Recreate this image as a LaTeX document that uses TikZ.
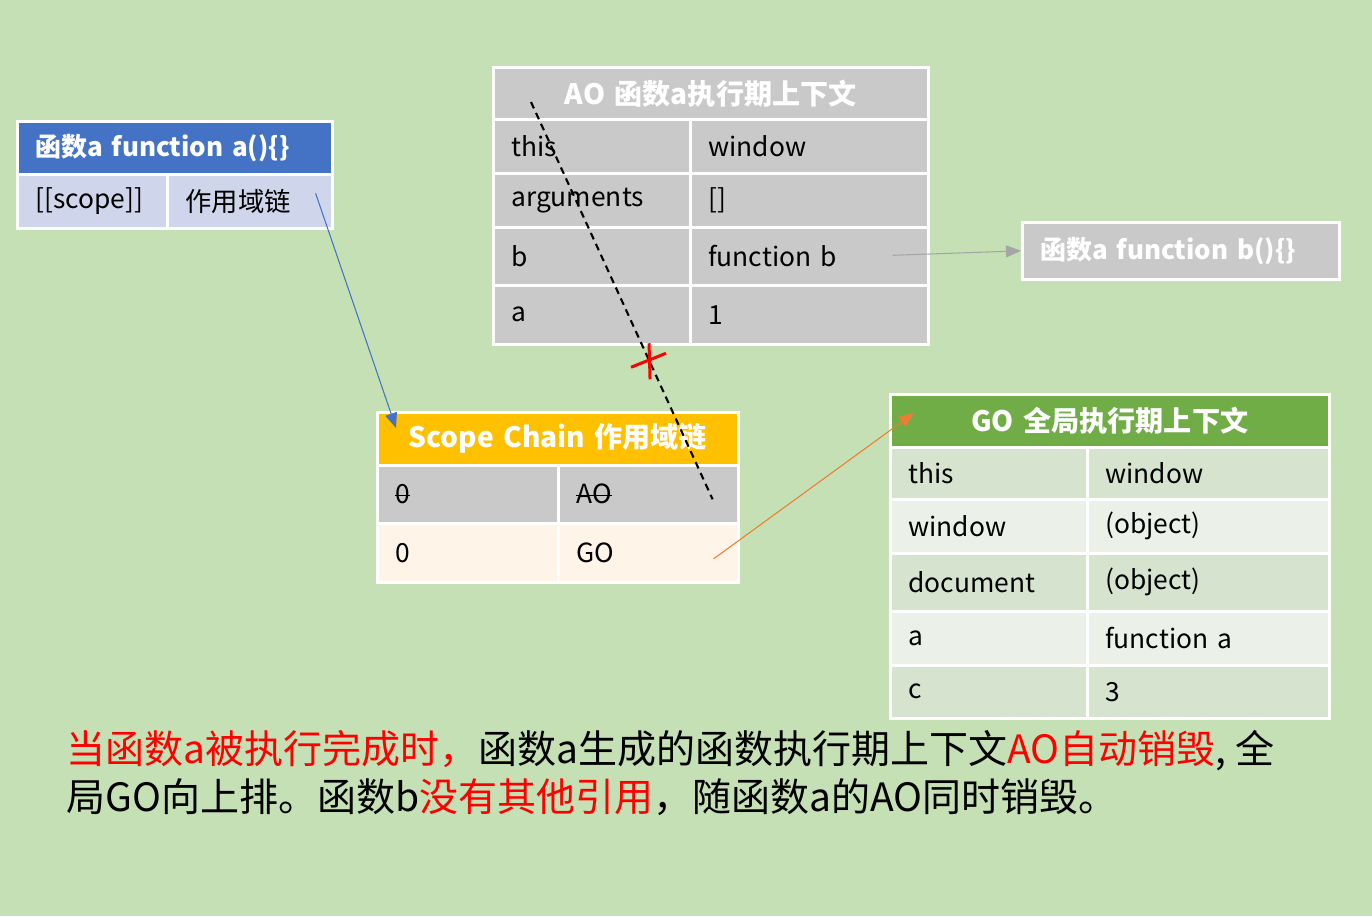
\documentclass[tikz,border=0pt]{standalone}
\usepackage{fontspec}
\setmainfont{Noto Sans CJK SC}
\usepackage{xcolor}
\usepackage{tikz}
\usetikzlibrary{arrows.meta, positioning, calc}

\definecolor{bggreen}{HTML}{C5E0B4}
\definecolor{fablue}{HTML}{4472C4}
\definecolor{fapale}{HTML}{CFD5EA}
\definecolor{aogray}{HTML}{C9C9C9}
\definecolor{scgold}{HTML}{FFC000}
\definecolor{sccream}{HTML}{FEF4E8}
\definecolor{gogreen}{HTML}{70AD47}
\definecolor{godark}{HTML}{D5E3CF}
\definecolor{golight}{HTML}{EBF1E9}
\definecolor{linkorange}{HTML}{ED7D31}
\definecolor{linkgray}{HTML}{A5A5A5}

\newcommand{\struck}[1]{\setbox0\hbox{#1}\rlap{\rule[0.3em]{\wd0}{0.7pt}}\box0}

\begin{document}
\begin{tikzpicture}[
  x=0.02cm, y=-0.02cm,
  arrow/.style={-{Triangle[length=0.3cm, width=0.24cm]}, line width=0.6pt},
  cell/.style={draw=white, line width=1.5pt, anchor=north west, inner xsep=0.36cm, inner ysep=0pt, align=left, font=\fontsize{15}{18}\selectfont},
  head/.style={cell, text=white, font=\fontsize{16}{19}\selectfont\bfseries},
  func_head/.style={head, font=\fontsize{14.8}{18}\selectfont\bfseries},
  note_text/.style={anchor=north west, align=left, inner sep=0pt, font=\fontsize{22.2}{27.5}\selectfont}
]

  % BACKGROUND
  \fill[bggreen] (0,0) rectangle (1372,916);
  \useasboundingbox (0,0) rectangle (1372,916);

  % FUNCTION A: object with its scope slot
  \node (fa-head) [func_head, text width=5.58cm, minimum height=1.06cm, fill=fablue] at (16,120) {函数a function a()\{\}};
  \node (fa-scope) [cell, text width=2.28cm, minimum height=1.08cm, fill=fapale] at (16,173) {[[scope]]};
  \node (fa-chain) [cell, text width=2.58cm, minimum height=1.08cm, fill=fapale] at (166,173) {作用域链};

  % AO: execution context of a
  \node (ao-head) [head, text width=7.98cm, align=center, minimum height=1.04cm, fill=aogray] at (492,66) {AO 函数a执行期上下文};
  \node (ao-this) [cell, text width=3.22cm, minimum height=1.08cm, fill=aogray] at (492,118) {this};
  \node (ao-thisv) [cell, text width=4.04cm, minimum height=1.08cm, fill=aogray] at (689,118) {window};
  \node (ao-args) [cell, text width=3.22cm, minimum height=1.08cm, fill=aogray] at (492,172) {arguments};
  \node (ao-argsv) [cell, text width=4.04cm, minimum height=1.08cm, fill=aogray] at (689,172) {[]};
  \node (ao-b) [cell, text width=3.22cm, minimum height=1.16cm, fill=aogray] at (492,226) {b};
  \node (ao-bv) [cell, text width=4.04cm, minimum height=1.16cm, fill=aogray] at (689,226) {function b};
  \node (ao-a) [cell, text width=3.22cm, minimum height=1.18cm, fill=aogray] at (492,284) {a};
  \node (ao-av) [cell, text width=4.04cm, minimum height=1.18cm, fill=aogray] at (689,284) {1};

  % FUNCTION B
  \node (fb) [func_head, text width=5.62cm, minimum height=1.14cm, fill=aogray] at (1021,221) {函数a function b()\{\}};

  % SCOPE CHAIN
  \node (sc-head) [head, text width=6.5cm, align=center, minimum height=1.06cm, fill=scgold] at (376,411) {Scope Chain 作用域链};
  \node (sc-0) [cell, text width=2.9cm, minimum height=1.16cm, fill=aogray] at (376,464) {\struck{0}};
  \node (sc-0v) [cell, text width=2.88cm, minimum height=1.16cm, fill=aogray] at (557,464) {\struck{AO}};
  \node (sc-1) [cell, text width=2.9cm, minimum height=1.18cm, fill=sccream] at (376,522) {0};
  \node (sc-1v) [cell, text width=2.88cm, minimum height=1.18cm, fill=sccream] at (557,522) {GO};

  % GO: global execution context
  \node (go-head) [head, text width=8.06cm, align=center, minimum height=1.06cm, fill=gogreen] at (889,393) {GO 全局执行期上下文};
  \node (go-this) [cell, text width=3.22cm, minimum height=1.04cm, fill=godark] at (889,446) {this};
  \node (go-thisv) [cell, text width=4.12cm, minimum height=1.04cm, fill=godark] at (1086,446) {window};
  \node (go-win) [cell, text width=3.22cm, minimum height=1.08cm, fill=golight] at (889,498) {window};
  \node (go-winv) [cell, text width=4.12cm, minimum height=1.08cm, fill=golight] at (1086,498) {(object)};
  \node (go-doc) [cell, text width=3.22cm, minimum height=1.16cm, fill=godark] at (889,552) {document};
  \node (go-docv) [cell, text width=4.12cm, minimum height=1.16cm, fill=godark] at (1086,552) {(object)};
  \node (go-a) [cell, text width=3.22cm, minimum height=1.08cm, fill=golight] at (889,610) {a};
  \node (go-av) [cell, text width=4.12cm, minimum height=1.08cm, fill=golight] at (1086,610) {function a};
  \node (go-c) [cell, text width=3.22cm, minimum height=1.06cm, fill=godark] at (889,664) {c};
  \node (go-cv) [cell, text width=4.12cm, minimum height=1.06cm, fill=godark] at (1086,664) {3};

  % Connections
  \draw[arrow, fablue] ($(fa-chain.east)+(-18,-8)$) -- ($(sc-head.north west)+(20,17)$);
  \draw[arrow, linkgray] ($(ao-bv.east)+(-37,-1)$) -- (fb.west);
  \draw[arrow, linkorange] ($(sc-1v.east)+(-26,6)$) -- ($(go-head.north west)+(25,20)$);

  % Cut link from AO
  \coordinate (cut-a) at ($(ao-head.north west)+(39,36)$);
  \coordinate (cut-b) at ($(sc-0v.east)+(-27,5)$);
  \draw[line width=1.2pt, dash pattern=on 0.14cm off 0.1cm] (cut-a) -- (cut-b);
  \coordinate (cut) at ($(cut-a)!0.65!(cut-b)$);
  \draw[red, line width=1.7pt] ($(cut)+(-18,7)$) -- ($(cut)+(17,-7)$);
  \draw[red, line width=1.7pt] ($(cut)+(0,-17)$) -- ($(cut)+(1,19)$);

  % Note
  \node (note) [note_text] at (66,730) {\textcolor{red}{当函数a被执行完成时，}函数a生成的函数执行期上下文\textcolor{red}{AO自动销毁}, 全\\局GO向上排。函数b\textcolor{red}{没有其他引用}，随函数a的AO同时销毁。};

\end{tikzpicture}
\end{document}
